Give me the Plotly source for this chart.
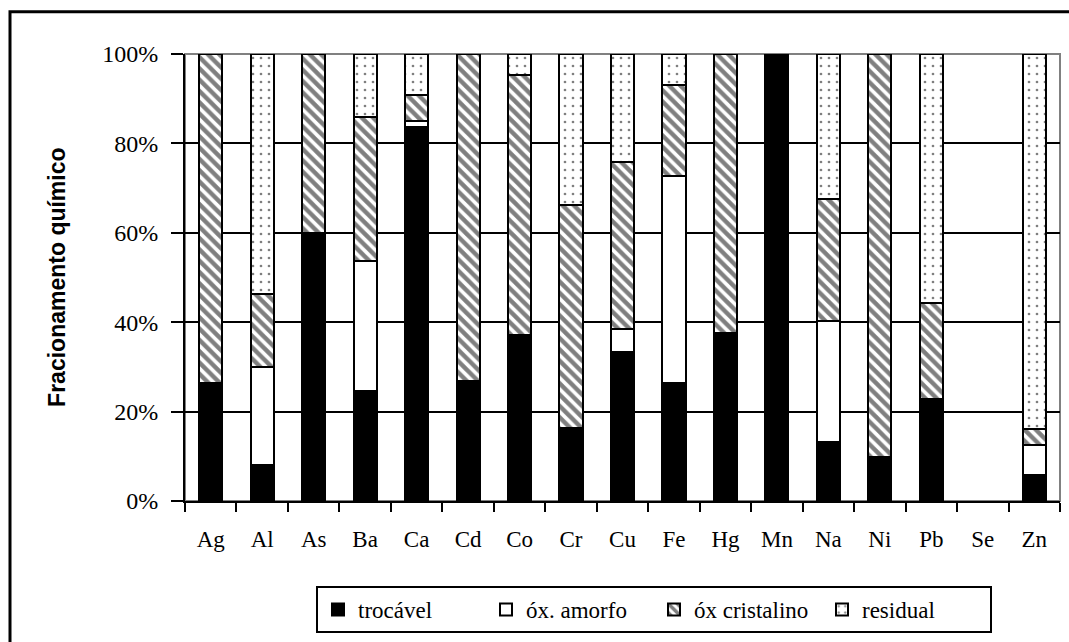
import plotly.graph_objects as go

# Chemical fractionation per element (% of total)
elements = ["Ag", "Al", "As", "Ba", "Ca", "Cd", "Co", "Cr", "Cu",
            "Fe", "Hg", "Mn", "Na", "Ni", "Pb", "Se", "Zn"]
trocavel = [26.3, 8.0, 60.0, 24.6, 83.7, 26.9, 37.1, 16.4, 33.4,
            26.3, 37.5, 100.0, 13.3, 9.9, 22.8, 0, 5.8]
ox_amorfo = [0, 22.0, 0, 29.2, 1.4, 0, 0, 0, 5.0,
             46.5, 0, 0, 27.0, 0, 0, 0, 6.7]
ox_cristalino = [73.7, 16.3, 40.0, 32.2, 5.7, 73.1, 58.2, 49.8, 37.5,
                 20.3, 62.5, 0, 27.3, 90.1, 21.6, 0, 3.6]
residual = [0, 53.7, 0, 14.0, 9.2, 0, 4.7, 33.8, 24.1,
            6.9, 0, 0, 32.4, 0, 55.6, 0, 83.9]
y_ticks = [0, 20, 40, 60, 80, 100]
y_tick_labels = ["0%", "20%", "40%", "60%", "80%", "100%"]

SERIF = "Liberation Serif, Times New Roman, serif"
SANS = "Liberation Sans, Arial, sans-serif"

series = [
    ("trocável", trocavel, dict(color="black")),
    ("óx. amorfo", ox_amorfo, dict(color="white")),
    ("óx cristalino", ox_cristalino,
     dict(color="white", pattern=dict(shape="\\", fgcolor="black", bgcolor="white",
                                      size=8, solidity=0.55))),
    ("residual", residual,
     dict(color="white", pattern=dict(shape=".", fgcolor="black", bgcolor="white",
                                      size=8, solidity=0.09))),
]

fig = go.Figure()
for name, vals, marker in series:
    # empty fractions are left undrawn
    fig.add_trace(go.Bar(
        x=elements, y=[v if v else None for v in vals], name=name,
        marker=dict(**marker, line=dict(color="black", width=2)),
    ))

fig.update_layout(
    width=1069, height=642,
    margin=dict(l=185, r=9, t=54, b=141),
    barmode="stack", bargap=0.55,
    plot_bgcolor="white", paper_bgcolor="white",
    font=dict(family=SERIF, size=22, color="black"),
    showlegend=True,
    legend=dict(
        orientation="h", x=0.536, xanchor="center", y=-0.19, yanchor="top",
        bordercolor="black", borderwidth=2, bgcolor="white",
        font=dict(family=SERIF, size=23, color="black"),
        traceorder="normal", itemwidth=30,
        entrywidth=123, entrywidthmode="pixels",
    ),
    shapes=[
        # plot-area frame (grey)
        dict(type="rect", xref="paper", yref="paper", x0=0, x1=1, y0=0, y1=1,
             line=dict(color="#808080", width=2), layer="below"),
        # outer chart frame
        dict(type="rect", xref="paper", yref="paper", x0=-0.2, x1=1.06, y0=-0.4, y1=1.0946,
             line=dict(color="black", width=3), layer="below"),
    ],
    annotations=[
        dict(text="<b>Fracionamento químico</b>", xref="paper", yref="paper",
             x=-0.147, y=0.5, xanchor="center", yanchor="middle", textangle=-90,
             showarrow=False, font=dict(family=SANS, size=23, color="black")),
    ],
)

fig.update_xaxes(
    type="category", showline=True, linecolor="black", linewidth=2,
    ticks="outside", tickson="boundaries", ticklen=9, tickwidth=2, tickcolor="black",
    ticklabelstandoff=16, showgrid=False,
    tickfont=dict(family=SERIF, size=23, color="black"),
)
fig.update_yaxes(
    range=[0, 100], tickmode="array", tickvals=y_ticks, ticktext=y_tick_labels,
    showline=True, linecolor="black", linewidth=2,
    ticks="outside", ticklen=12, tickwidth=2, tickcolor="black",
    ticklabelstandoff=8,
    showgrid=True, gridcolor="black", gridwidth=1.5, zeroline=False,
    tickfont=dict(family=SERIF, size=24, color="black"),
)

fig.write_html("out.html")
